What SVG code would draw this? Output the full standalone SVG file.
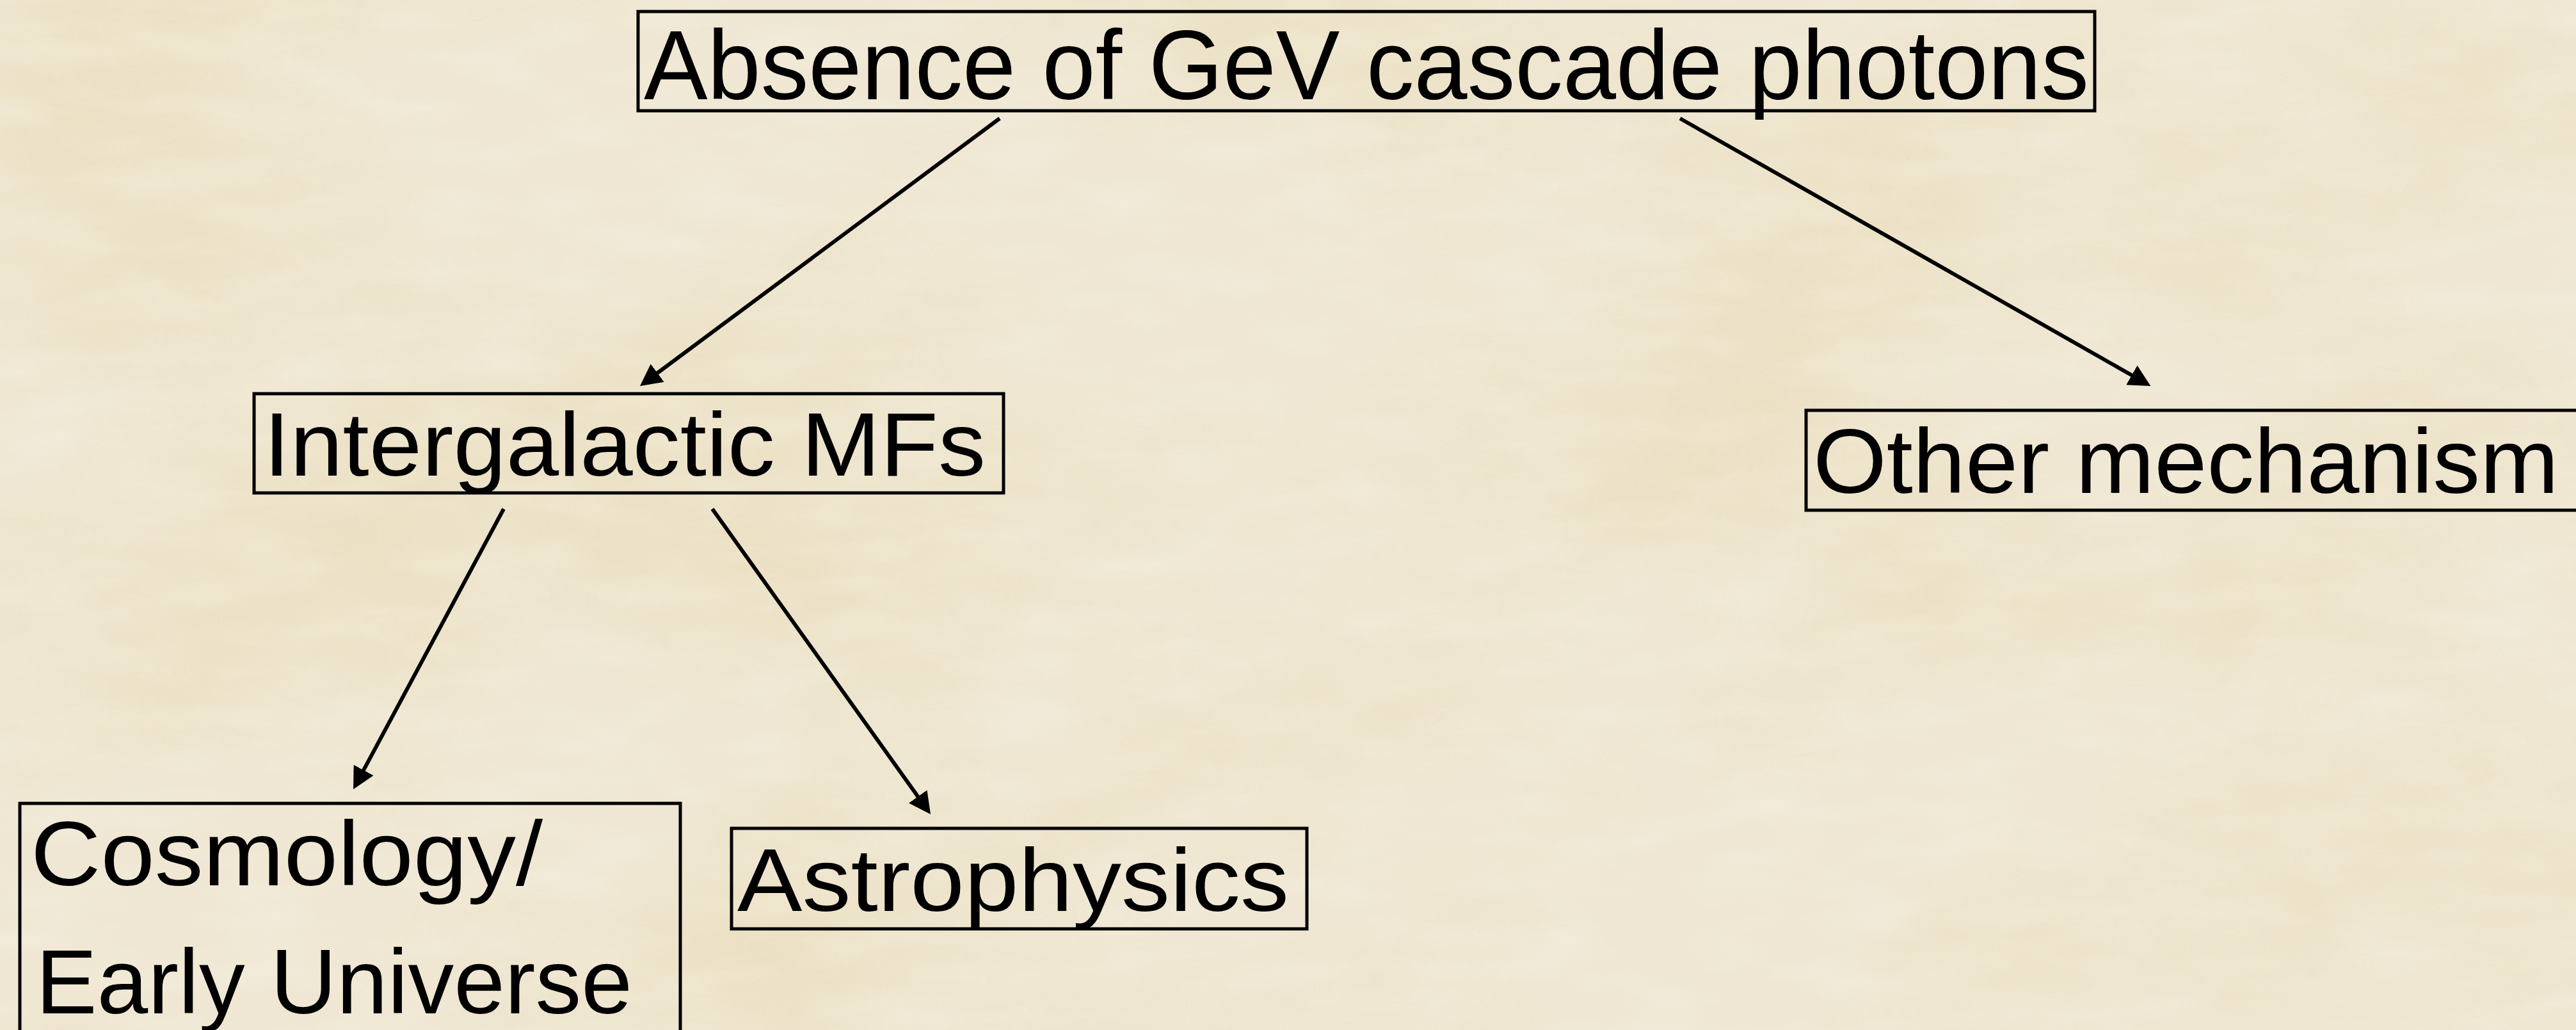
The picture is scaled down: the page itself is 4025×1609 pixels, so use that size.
<svg xmlns="http://www.w3.org/2000/svg" width="4025" height="1609" viewBox="0 0 4025 1609">
  <defs>
    <filter id="paper" x="0" y="0" width="100%" height="100%" filterUnits="userSpaceOnUse">
      <feTurbulence type="fractalNoise" baseFrequency="0.0013 0.0019" numOctaves="5" seed="11" result="n"/>
      <feColorMatrix in="n" type="matrix" values="0 0 0 0 0.80  0 0 0 0 0.69  0 0 0 0 0.44  1.9 0 0 0 -0.78"/>
    </filter>
    <filter id="grain" x="0" y="0" width="100%" height="100%" filterUnits="userSpaceOnUse">
      <feTurbulence type="fractalNoise" baseFrequency="0.006 0.02" numOctaves="3" seed="2" result="g"/>
      <feColorMatrix in="g" type="matrix" values="0 0 0 0 0.98  0 0 0 0 0.96  0 0 0 0 0.90  1.4 0 0 0 -0.55"/>
    </filter>
    <marker id="arrow" markerUnits="userSpaceOnUse" markerWidth="40" markerHeight="40" refX="14" refY="17.5" orient="auto">
      <path d="M0,0 L34,17.5 L0,35 Z" fill="#000"/>
    </marker>
  </defs>
  <style>
    .box { fill: none; stroke: #000; stroke-width: 5; }
    .lbl { font-family: "Liberation Sans", Arial, sans-serif; fill: #000; }
    .conn { stroke: #000; stroke-width: 6; fill: none; marker-end: url(#arrow); }
  </style>

  <g id="background">
    <rect x="0" y="0" width="4025" height="1609" fill="#efe7d3"/>
    <rect x="0" y="0" width="4025" height="1609" filter="url(#paper)" opacity="0.6"/>
    <rect x="0" y="0" width="4025" height="1609" filter="url(#grain)" opacity="0.3"/>
  </g>

  <g id="connectors">
    <line class="conn" x1="1562" y1="185" x2="1016" y2="591"/>
    <line class="conn" x1="2625" y1="185" x2="3343" y2="593"/>
    <line class="conn" x1="787" y1="795" x2="561.5" y2="1215.4"/>
    <line class="conn" x1="1113" y1="795" x2="1442.4" y2="1255.7"/>
  </g>

  <g id="node-absence">
    <rect class="box" x="997" y="18" width="2276" height="155"/>
    <text class="lbl" x="1006" y="155" font-size="154" textLength="2258" lengthAdjust="spacingAndGlyphs">Absence of GeV cascade photons</text>
  </g>

  <g id="node-intergalactic">
    <rect class="box" x="397" y="615" width="1171" height="155"/>
    <text class="lbl" x="412" y="743" font-size="141" textLength="1128" lengthAdjust="spacingAndGlyphs">Intergalactic MFs</text>
  </g>

  <g id="node-other">
    <rect class="box" x="2822" y="641" width="1250" height="156"/>
    <text class="lbl" x="2833" y="770" font-size="142" textLength="1165" lengthAdjust="spacingAndGlyphs">Other mechanism</text>
  </g>

  <g id="node-cosmology">
    <rect class="box" x="31" y="1255" width="1032" height="400"/>
    <text class="lbl" x="48" y="1383" font-size="142" textLength="800" lengthAdjust="spacingAndGlyphs">Cosmology/</text>
    <text class="lbl" x="56" y="1583" font-size="142" textLength="932" lengthAdjust="spacingAndGlyphs">Early Universe</text>
  </g>

  <g id="node-astrophysics">
    <rect class="box" x="1143" y="1294" width="899" height="157"/>
    <text class="lbl" x="1152" y="1423" font-size="140" textLength="862" lengthAdjust="spacingAndGlyphs">Astrophysics</text>
  </g>
</svg>
